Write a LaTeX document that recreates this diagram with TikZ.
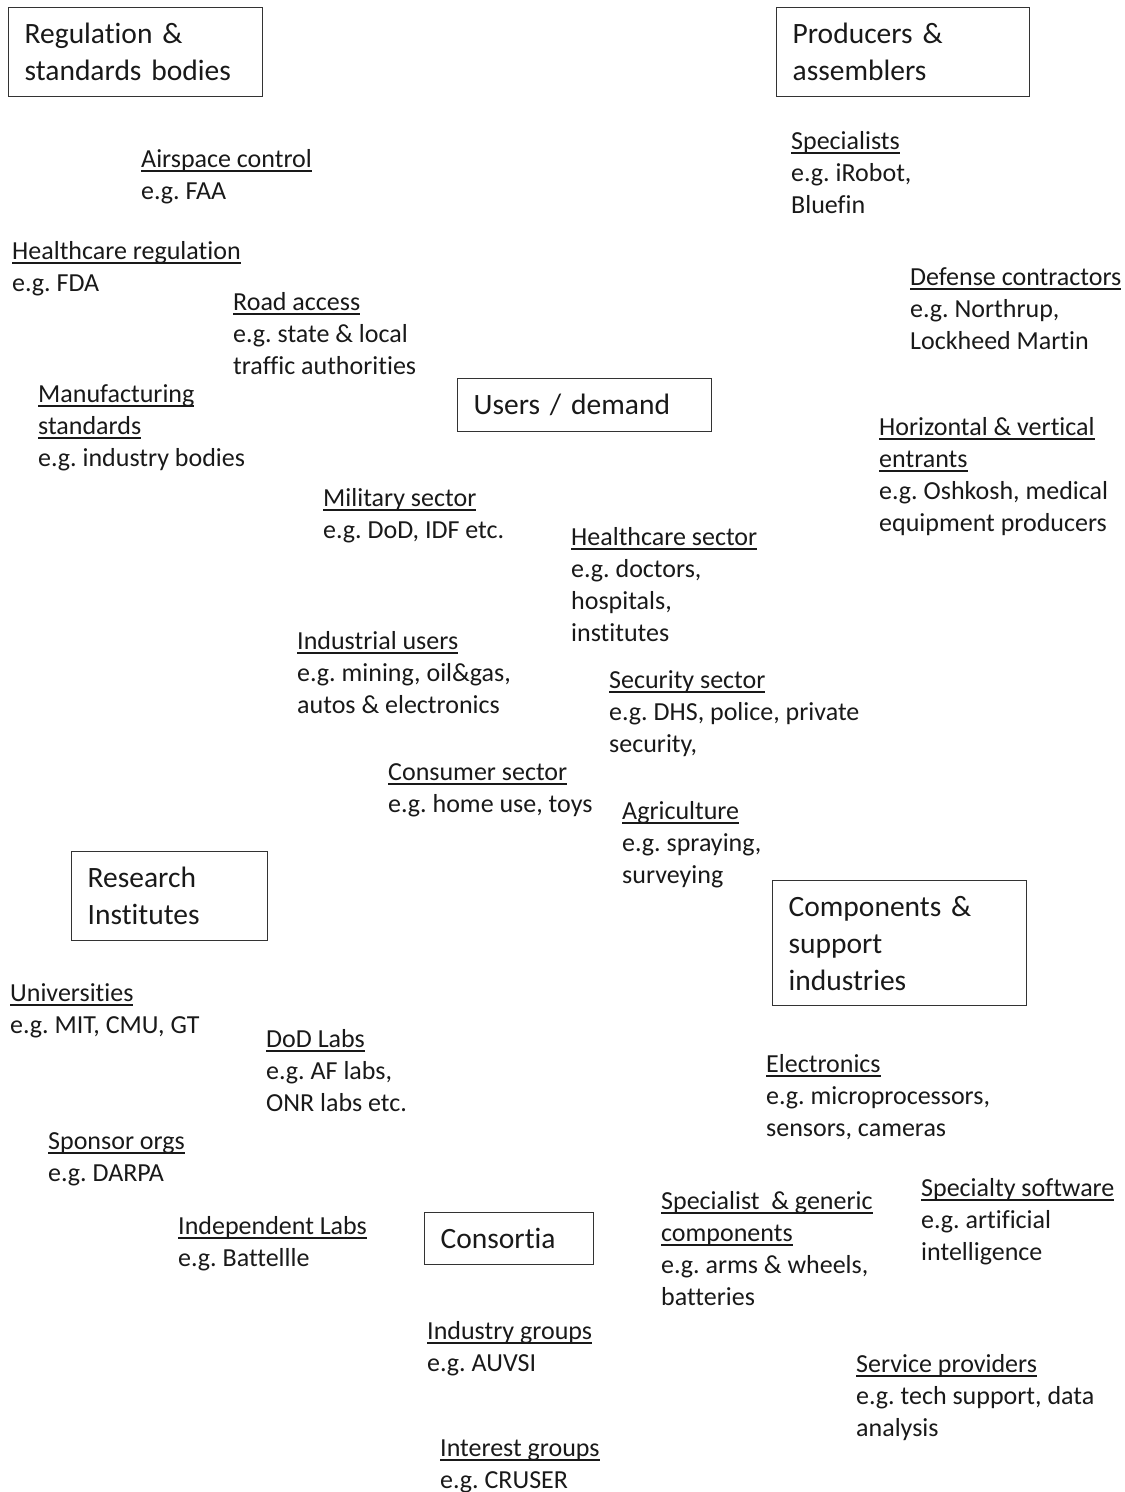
\documentclass[tikz,border=0pt]{standalone}
\usepackage{fontspec}
\setmainfont{Carlito}[Ligatures=NoCommon]
\usepackage{tikz}
\usetikzlibrary{positioning}
\frenchspacing

\newcommand{\ttl}[1]{\setbox0\hbox{#1}\rlap{\rule[-4.5pt]{\wd0}{1.4pt}}\box0}

\tikzset{
    box/.style={draw=black!80, line width=1.3pt, anchor=north west,
        inner xsep=16pt, inner ysep=0pt, align=left,
        font=\fontsize{29.5}{37}\selectfont},
    item/.style={anchor=base west, inner sep=0pt, align=left,
        font=\fontsize{26}{32}\selectfont}
}

\begin{document}
\begin{tikzpicture}[x=1pt, y=-1pt, text=black!90]
    \useasboundingbox (0,0) rectangle (1125,1492);
    % Add the boxes
    \node[box, text width=222pt, minimum height=89pt] (reg) at (8,7)
        {Regulation \&\\standards bodies};
    \node[box, text width=221pt, minimum height=89pt] (prod) at (776,7)
        {Producers \&\\assemblers};
    \node[box, text width=222pt, minimum height=53pt] (users) at (457,378)
        {Users / demand};
    \node[box, text width=164pt, minimum height=89pt] (research) at (71,851)
        {Research\\Institutes};
    \node[box, text width=222pt, minimum height=125pt] (comp) at (772,880)
        {Components \&\\support\\industries};
    \node[box, text width=137pt, minimum height=52pt] (consortia) at (424,1212)
        {Consortia};

    % Regulation & standards bodies (placed at baseline of last line)
    \node[item] (airspace) at (141,199) {\ttl{Airspace control}\\e.g. FAA};
    \node[item] (healthreg) at (12,291) {\ttl{Healthcare regulation}\\e.g. FDA};
    \node[item] (road) at (233,374)
        {\ttl{Road access}\\e.g. state \& local\\traffic authorities};
    \node[item] (manuf) at (38,466)
        {\ttl{Manufacturing}\\\ttl{standards}\\e.g. industry bodies};

    % Producers & assemblers
    \node[item] (special) at (791,213) {\ttl{Specialists}\\e.g. iRobot,\\Bluefin};
    \node[item] (defense) at (910,349)
        {\ttl{Defense contractors}\\e.g. Northrup,\\Lockheed Martin};
    \node[item] (entrants) at (879,531)
        {\ttl{Horizontal \& vertical}\\\ttl{entrants}\\e.g. Oshkosh, medical\\equipment producers};

    % Users / demand
    \node[item] (military) at (323,538) {\ttl{Military sector}\\e.g. DoD, IDF etc.};
    \node[item] (health) at (571,641)
        {\ttl{Healthcare sector}\\e.g. doctors,\\hospitals,\\institutes};
    \node[item] (industrial) at (297,713)
        {\ttl{Industrial users}\\e.g. mining, oil\&gas,\\autos \& electronics};
    \node[item] (security) at (609,752)
        {\ttl{Security sector}\\e.g. DHS, police, private\\security,};
    \node[item] (consumer) at (388,812) {\ttl{Consumer sector}\\e.g. home use, toys};
    \node[item] (agri) at (622,883) {\ttl{Agriculture}\\e.g. spraying,\\surveying};

    % Research institutes
    \node[item] (univ) at (10,1033) {\ttl{Universities}\\e.g. MIT, CMU, GT};
    \node[item] (dodlabs) at (266,1111) {\ttl{DoD Labs}\\e.g. AF labs,\\ONR labs etc.};
    \node[item] (sponsor) at (48,1181) {\ttl{Sponsor orgs}\\e.g. DARPA};
    \node[item] (indep) at (178,1266) {\ttl{Independent Labs}\\e.g. Battellle};

    % Consortia
    \node[item] (indgroups) at (427,1371) {\ttl{Industry groups}\\e.g. AUVSI};
    \node[item] (intgroups) at (440,1488) {\ttl{Interest groups}\\e.g. CRUSER};

    % Components & support industries
    \node[item] (electronics) at (766,1136)
        {\ttl{Electronics}\\e.g. microprocessors,\\sensors, cameras};
    \node[item] (generic) at (661,1305)
        {\ttl{Specialist\ \ \& generic}\\\ttl{components}\\e.g. arms \& wheels,\\batteries};
    \node[item] (software) at (921,1260)
        {\ttl{Specialty software}\\e.g. artificial\\intelligence};
    \node[item] (service) at (856,1436)
        {\ttl{Service providers}\\e.g. tech support, data\\analysis};
\end{tikzpicture}
\end{document}
